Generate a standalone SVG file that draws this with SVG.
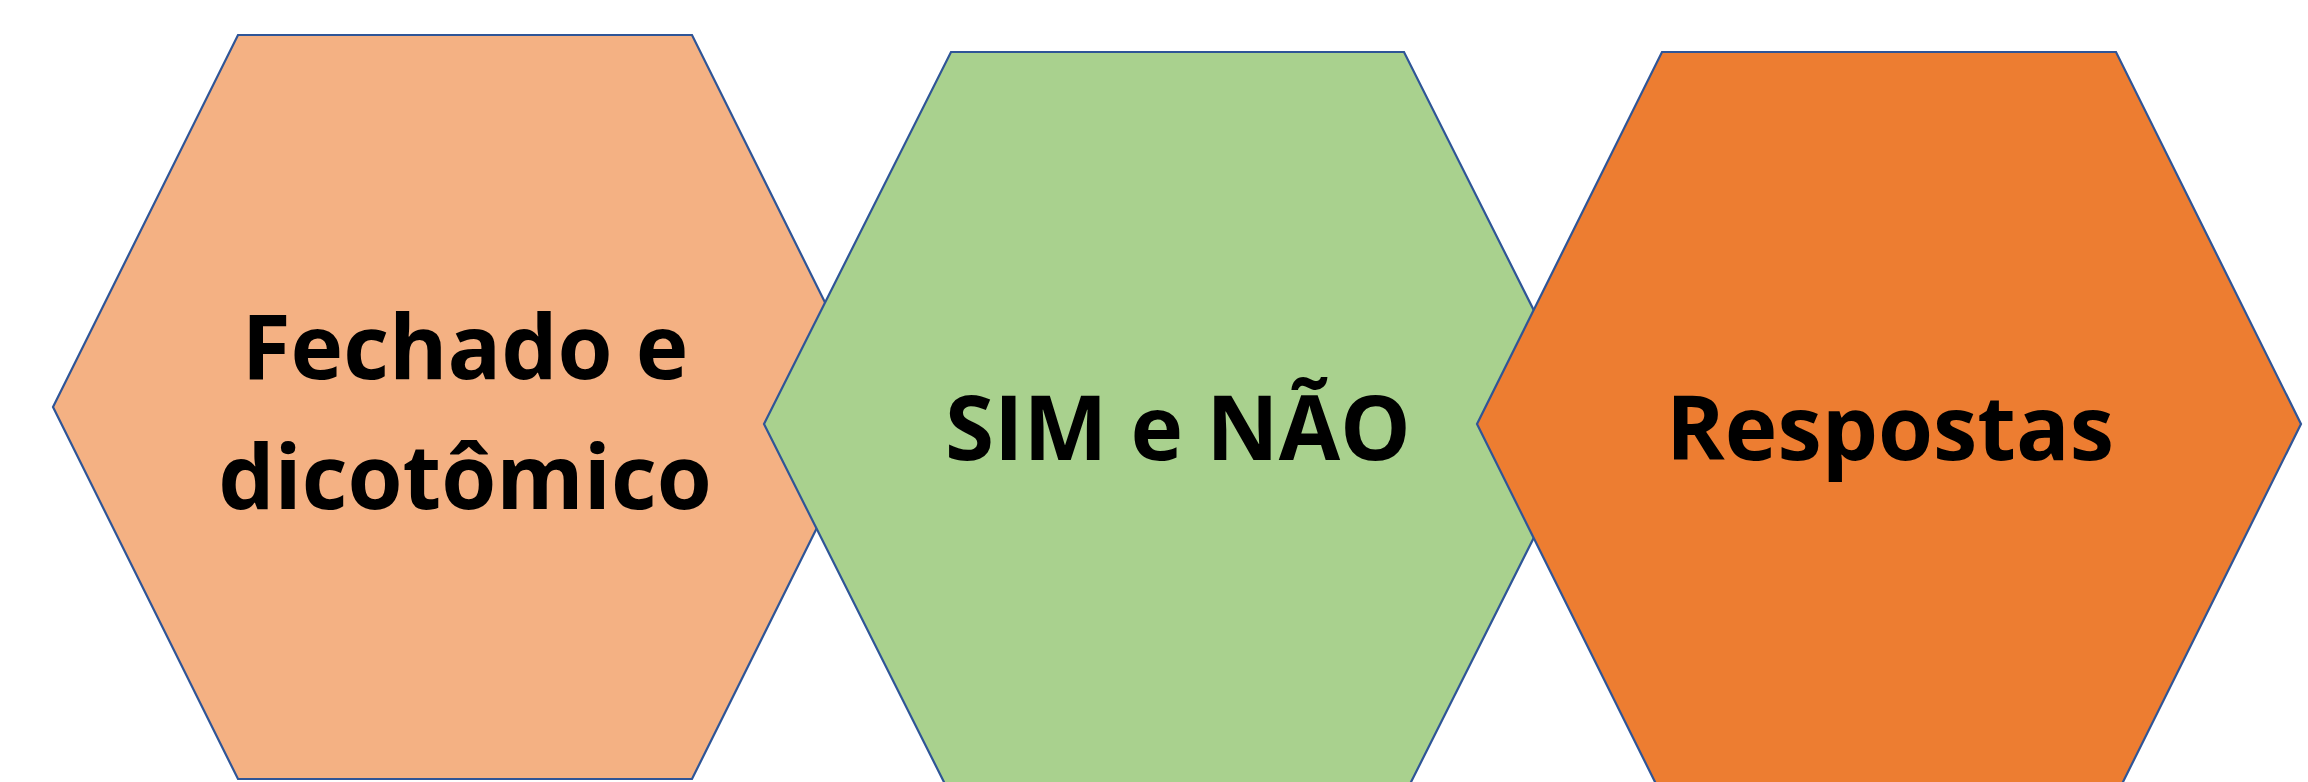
<svg xmlns="http://www.w3.org/2000/svg" width="2308" height="782" viewBox="0 0 2308 782">
  <style>
    .hex { stroke: #2F5597; stroke-width: 2.2; stroke-linejoin: miter; }
    .lbl { font-family: "Open Sans", "Noto Sans", "DejaVu Sans", sans-serif; font-weight: 700; font-size: 89px; fill: #000000; text-anchor: middle; }
  </style>
  <rect width="2308" height="782" fill="#FFFFFF"/>
  <g id="node-fechado">
    <polygon class="hex" fill="#F4B183" points="238,35 692,35 877,407 692,779 238,779 53,407"/>
    <text class="lbl" x="465" y="379">Fechado e</text>
    <text class="lbl" x="465" y="509">dicotômico</text>
  </g>
  <g id="node-sim-nao">
    <polygon class="hex" fill="#A9D18E" points="951,52 1404,52 1591,424 1404,796 951,796 764,424"/>
    <text class="lbl" x="1178" y="460">SIM e NÃO</text>
  </g>
  <g id="node-respostas">
    <polygon class="hex" fill="#ED7D31" points="1662,52 2116,52 2301,424 2116,796 1662,796 1477,424"/>
    <text class="lbl" x="1890" y="460">Respostas</text>
  </g>
  <g id="connectors"></g>
</svg>
